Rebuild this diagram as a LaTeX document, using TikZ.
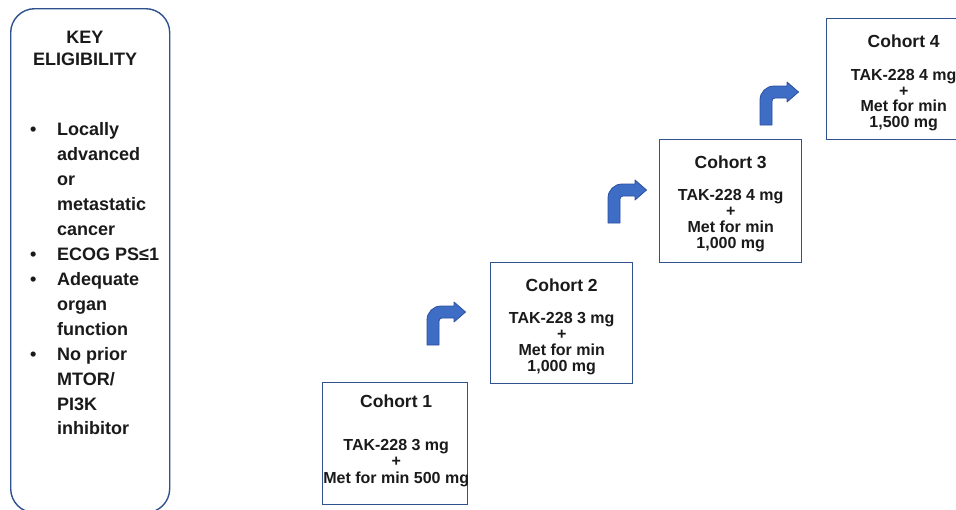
\documentclass[tikz,border=0pt]{standalone}
\usepackage{fontspec}
\setmainfont{Liberation Sans}
\usetikzlibrary{calc}
\definecolor{boxblue}{HTML}{2F528F}
\definecolor{arrfill}{HTML}{3E6DC5}
\definecolor{arrdraw}{HTML}{2B4F9E}
\definecolor{txt}{HTML}{1A1A1A}
\tikzset{
  cbox/.style={draw=boxblue, line width=1.4pt, anchor=north west, inner sep=0pt},
  ctitle/.style={anchor=base, inner sep=0pt, text=txt, font=\fontsize{17.5}{17.5}\selectfont\bfseries},
  cline/.style={anchor=base, inner sep=0pt, text=txt, font=\fontsize{16}{16}\selectfont\bfseries},
  keytxt/.style={anchor=base, inner sep=0pt, text=txt, font=\fontsize{18}{18}\selectfont\bfseries},
  itemtxt/.style={anchor=base west, inner sep=0pt, text=txt, font=\fontsize{18}{18}\selectfont\bfseries},
  arrowshape/.style={fill=arrfill, draw=arrdraw, line width=0.8pt, line join=round},
  bentarrow/.pic={
    \path[arrowshape] (0,0) -- (0,-25) .. controls (0,-32.7) and (6.3,-39) .. (14,-39)
      -- (27,-39) -- (27,-43) -- (38.5,-33) -- (27,-23) -- (27,-27) -- (15,-27)
      .. controls (13.3,-27) and (12,-25.7) .. (12,-24) -- (12,0) -- cycle;
  }
}
\begin{document}
\begin{tikzpicture}[x=1pt, y=-1pt]
\useasboundingbox (0,0) rectangle (956,509);
\clip (0,0) rectangle (956,509);
\fill[white] (0,0) rectangle (956,509);

% key eligibility box
\node[cbox, rounded corners=24pt, minimum width=159pt, minimum height=504pt] (keybox) at (10,8) {};
\node[keytxt] (key1) at (85,43) {KEY};
\node[keytxt] (key2) at (85,65) {ELIGIBILITY};
\foreach \t/\yy [count=\i] in {Locally/135, advanced/160, or/185, metastatic/210, cancer/235,
  ECOG PS≤1/260, Adequate/285, organ/310, function/335, No prior/360, PI3K/410, inhibitor/434}
  \node[itemtxt] (item\i) at (57,\yy) {\t};
\node[itemtxt] (itemmtor) at (57,385) {MTOR/};
\foreach \yy [count=\i] in {135,260,285,360}
  \node[itemtxt] (bul\i) at (30,\yy) {•};

% cohort boxes
\node[cbox, minimum width=145pt, minimum height=122pt] (c1) at (322,382) {};
\node[ctitle] (c1t) at ($(c1.north)+(1,25)$) {Cohort 1};
\node[cline] (c1a) at ($(c1.north)+(1,68)$) {TAK-228 3 mg};
\node[cline] (c1b) at ($(c1.north)+(1,84)$) {+};
\node[cline] (c1c) at ($(c1.north)+(1,101)$) {Met for min 500 mg};

\node[cbox, minimum width=142pt, minimum height=121pt] (c2) at (490,262) {};
\node[ctitle] (c2t) at ($(c2.north)+(0,29)$) {Cohort 2};
\node[cline] (c2a) at ($(c2.north)+(0,61)$) {TAK-228 3 mg};
\node[cline] (c2b) at ($(c2.north)+(0,77)$) {+};
\node[cline] (c2c) at ($(c2.north)+(0,93)$) {Met for min};
\node[cline] (c2d) at ($(c2.north)+(0,109)$) {1,000 mg};

\node[cbox, minimum width=142pt, minimum height=123pt] (c3) at (659,139) {};
\node[ctitle] (c3t) at ($(c3.north)+(0,29)$) {Cohort 3};
\node[cline] (c3a) at ($(c3.north)+(0,61)$) {TAK-228 4 mg};
\node[cline] (c3b) at ($(c3.north)+(0,77)$) {+};
\node[cline] (c3c) at ($(c3.north)+(0,93)$) {Met for min};
\node[cline] (c3d) at ($(c3.north)+(0,109)$) {1,000 mg};

\node[cbox, minimum width=154pt, minimum height=121pt] (c4) at (826,18) {};
\node[ctitle] (c4t) at ($(c4.north)+(0,29)$) {Cohort 4};
\node[cline] (c4a) at ($(c4.north)+(0,62)$) {TAK-228 4 mg};
\node[cline] (c4b) at ($(c4.north)+(0,78)$) {+};
\node[cline] (c4c) at ($(c4.north)+(0,93)$) {Met for min};
\node[cline] (c4d) at ($(c4.north)+(0,109)$) {1,500 mg};

% bent arrows
\pic (a1) at (427,345) {bentarrow};
\pic (a2) at (608,223) {bentarrow};
\pic (a3) at (760,125) {bentarrow};
\end{tikzpicture}
\end{document}
